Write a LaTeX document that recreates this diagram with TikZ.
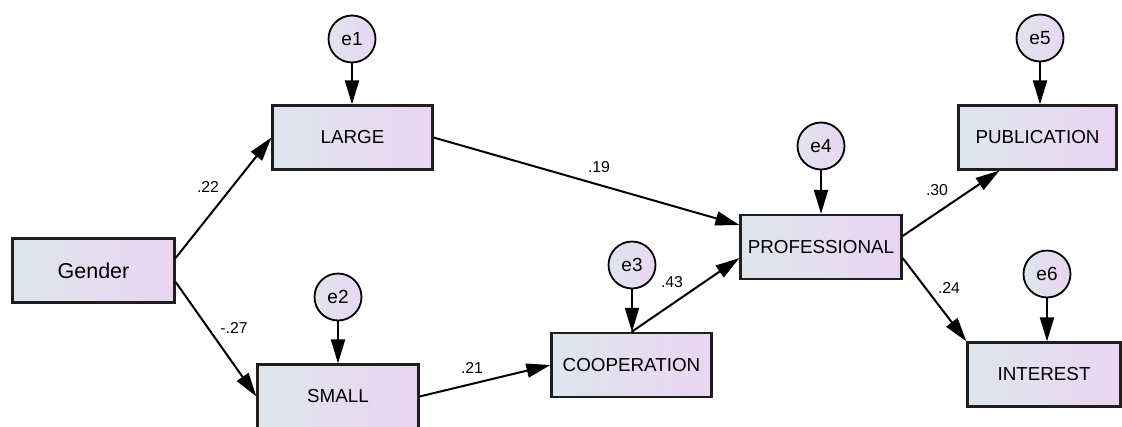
\documentclass[tikz,border=0pt]{standalone}
\usepackage{fontspec}
\setmainfont{Liberation Sans}
\usetikzlibrary{arrows.meta,calc}
\definecolor{gl}{RGB}{222,230,236}
\definecolor{gr}{RGB}{234,213,243}
\tikzset{
  var/.style={draw={rgb,255:red,30;green,30;blue,30}, line width=2.2pt, rectangle, minimum height=64pt,
    left color=gl, right color=gr, font=\fontsize{18.8}{21}\selectfont, inner sep=0pt},
  err/.style={draw=black, line width=1.8pt, circle, minimum size=47pt, inner sep=0pt,
    left color=gl, right color=gr, font=\fontsize{19}{21}\selectfont},
  path/.style={line width=2pt, -{Triangle[length=24pt,width=14pt]}},
  coef/.style={font=\fontsize{15.8}{17}\selectfont, inner sep=0pt}
}
\begin{document}
\begin{tikzpicture}[x=1pt,y=-1pt]
\useasboundingbox (0,0) rectangle (1122,426);
% variables
\node[var, minimum width=162pt, font=\fontsize{21.5}{23}\selectfont] (gender) at (93.5,270.5) {Gender};
\node[var, minimum width=160pt] (large) at (352.5,137.5) {LARGE};
\node[var, minimum width=161pt] (small) at (338,396.5) {SMALL};
\node[var, minimum width=160pt] (coop) at (631.5,365) {COOPERATION};
\node[var, minimum width=161pt] (prof) at (821,247) {PROFESSIONAL};
\node[var, minimum width=158pt] (pub) at (1037.5,137.5) {PUBLICATION};
\node[var, minimum width=153pt] (int) at (1044,374.5) {INTEREST};
% errors
\node[err] (e1) at (352,39) {e1};
\node[err] (e2) at (338,297) {e2};
\node[err] (e3) at (632,265) {e3};
\node[err] (e4) at (821,146) {e4};
\node[err] (e5) at (1040,38) {e5};
\node[err] (e6) at (1047,274) {e6};
% error arrows
\draw[path] (e1.south) -- (e1.south |- large.north);
\draw[path] (e2.south) -- (e2.south |- small.north);
\draw[path] (e3.south) -- (e3.south |- coop.north);
\draw[path] (e4.south) -- (e4.south |- prof.north);
\draw[path] (e5.south) -- (e5.south |- pub.north);
\draw[path] (e6.south) -- (e6.south |- int.north);
% structural paths
\draw[path] ([yshift=12.5pt]gender.east) -- (large.west);
\draw[path] ([yshift=-11.5pt]gender.east) -- (small.west);
\draw[path] (large.east) -- ([yshift=22pt]prof.west);
\draw[path] (small.east) -- (coop.west);
\draw[path] (coop.north) -- ([yshift=-11pt]prof.west);
\draw[path] ([yshift=11pt]prof.east) -- ([xshift=-38pt]pub.south);
\draw[path] ([yshift=-11pt]prof.east) -- (int.north west);
% coefficients
\node[coef] (c1) at (208,187) {.22};
\node[coef] (c2) at (234,328) {-.27};
\node[coef] (c3) at (599,167) {.19};
\node[coef] (c4) at (472,368) {.21};
\node[coef] (c5) at (672,282) {.43};
\node[coef] (c6) at (937,190) {.30};
\node[coef] (c7) at (949,288) {.24};
\end{tikzpicture}
\end{document}
